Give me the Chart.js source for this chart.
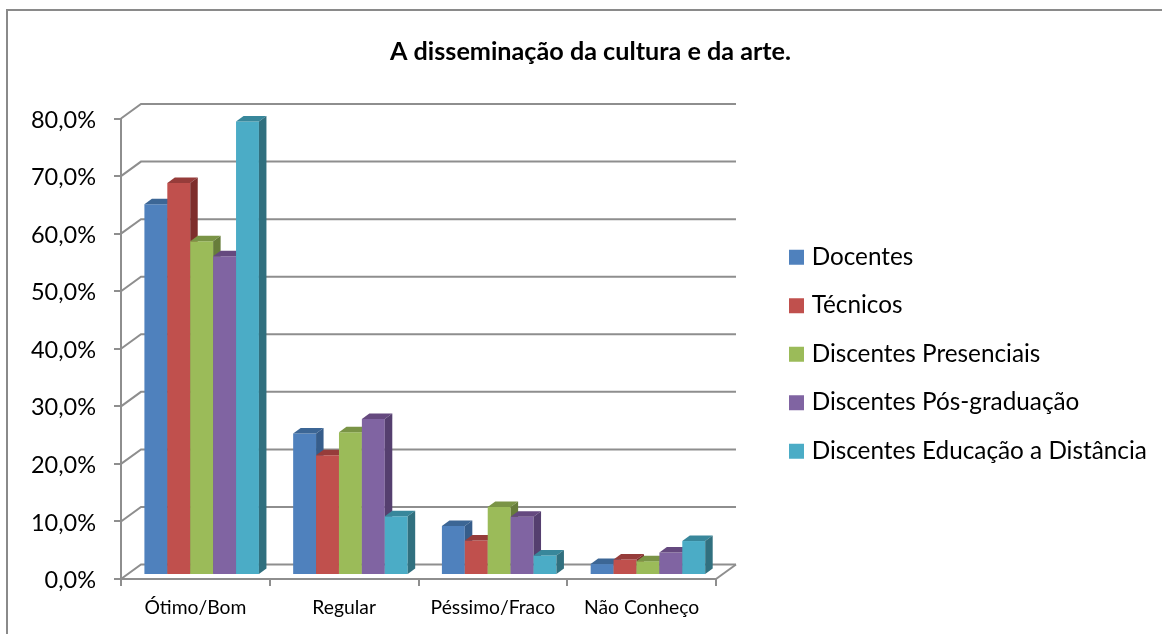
<!DOCTYPE html>
<html>
<head>
<meta charset="utf-8">
<title>A disseminação da cultura e da arte.</title>
<style>
  html, body { margin: 0; padding: 0; background: #fff; }
  #wrap { position: relative; width: 1162px; height: 634px; }
</style>
<script src="https://cdn.jsdelivr.net/npm/chart.js@4/dist/chart.umd.min.js"></script>
</head>
<body>
<div id="wrap"><canvas id="chart" width="1162" height="634"></canvas></div>
<script>
const chartTitle = "A disseminação da cultura e da arte.";
const categories = ["Ótimo/Bom", "Regular", "Péssimo/Fraco", "Não Conheço"];
const docentes = [64.4, 24.6, 8.5, 1.9];
const tecnicos = [68.1, 20.8, 6.0, 2.7];
const presenciais = [58.0, 24.8, 11.8, 2.4];
const posGraduacao = [55.4, 27.1, 10.1, 3.9];
const distancia = [78.8, 10.2, 3.4, 5.9];

const gridColor = "#8e8e8e";
const font = "Lato";

// depth of the fake 3D box, in px
const wallDx = 20, wallDy = 14.5;
const barShiftX = 6.3, barShiftY = -4;
const barDx = 7.5, barDy = 5.5;

const series = [
    { label: "Docentes", data: docentes, color: "#4f81bd", side: "#365d8b", top: "#3c6695" },
    { label: "Técnicos", data: tecnicos, color: "#c0504d", side: "#7e2e2c", top: "#963c3a" },
    { label: "Discentes Presenciais", data: presenciais, color: "#9bbb59", side: "#677d3a", top: "#7a9446" },
    { label: "Discentes Pós-graduação", data: posGraduacao, color: "#8064a2", side: "#553f6f", top: "#65497f" },
    { label: "Discentes Educação a Distância", data: distancia, color: "#4bacc6", side: "#31707f", top: "#38879b" }
];

const face = (ctx, color, pts) => {
    ctx.fillStyle = color;
    ctx.beginPath();
    pts.forEach((p, i) => i ? ctx.lineTo(p[0], p[1]) : ctx.moveTo(p[0], p[1]));
    ctx.closePath();
    ctx.fill();
};

const box3d = {
    id: "box3d",
    // outer frame only has top and left edges
    beforeDraw(chart) {
        const ctx = chart.ctx;
        ctx.save();
        ctx.strokeStyle = "#8a8a8a";
        ctx.lineWidth = 2;
        ctx.beginPath();
        ctx.moveTo(7, 634);
        ctx.lineTo(7, 10);
        ctx.lineTo(1162, 10);
        ctx.stroke();
        ctx.restore();
    },
    // back wall lines + floor edge
    beforeDatasetsDraw(chart) {
        const ctx = chart.ctx, y = chart.scales.y, a = chart.chartArea;
        ctx.save();
        ctx.strokeStyle = gridColor;
        ctx.lineWidth = 2;
        y.ticks.forEach((t, i) => {
            const py = y.getPixelForTick(i);
            ctx.beginPath();
            ctx.moveTo(a.left, py);
            ctx.lineTo(a.left + wallDx, py - wallDy);
            ctx.lineTo(a.right + wallDx, py - wallDy);
            ctx.stroke();
        });
        ctx.beginPath();
        ctx.moveTo(a.right, y.getPixelForValue(0));
        ctx.lineTo(a.right + wallDx, y.getPixelForValue(0) - wallDy);
        ctx.stroke();
        ctx.restore();
    },
    // default draw order is last dataset first, the boxes need first dataset first
    beforeDatasetDraw() {
        return false;
    },
    afterDatasetsDraw(chart) {
        const ctx = chart.ctx;
        ctx.save();
        ctx.translate(barShiftX, barShiftY);
        series.forEach((s, i) => {
            const meta = chart.getDatasetMeta(i);
            meta.controller.draw();
            meta.data.forEach(el => {
                const r = el.x + el.width / 2, l = el.x - el.width / 2;
                face(ctx, s.top, [[l, el.y], [l + barDx, el.y - barDy], [r + barDx, el.y - barDy], [r, el.y]]);
                face(ctx, s.side, [[r, el.y], [r + barDx, el.y - barDy], [r + barDx, el.base - barDy], [r, el.base]]);
            });
        });
        ctx.restore();
    },
    afterUpdate(chart) {
        // title is centred a bit right of the canvas, legend sits beside the plot
        chart.titleBlock.left = 0;
        chart.titleBlock.right = 1181;
        const lg = chart.legend;
        lg.left = 793.5 - lg.options.labels.padding;
        lg.right = 1162;
        lg.top = 256 - 11 - lg.options.labels.padding;
        lg.bottom = lg.top + 400;
        lg.adjustHitBoxes();
    }
};

new Chart(document.getElementById("chart"), {
    type: "bar",
    data: {
        labels: categories,
        datasets: series.map(s => ({
            label: s.label,
            data: s.data,
            backgroundColor: s.color,
            borderWidth: 0
        }))
    },
    options: {
        responsive: false,
        animation: false,
        events: [],
        categoryPercentage: 0.77,
        barPercentage: 1,
        layout: { padding: { left: 0, right: 446, top: 0, bottom: 0 } },
        plugins: {
            tooltip: { enabled: false },
            title: {
                display: true,
                text: chartTitle,
                color: "#000",
                font: { family: font, size: 25.2, weight: "bold" },
                padding: { top: 37, bottom: 51.3 }
            },
            legend: {
                position: "chartArea",
                align: "start",
                labels: {
                    color: "#000",
                    font: { family: font, size: 24.3 },
                    padding: 24.2,
                    boxWidth: 6,
                    boxHeight: 6,
                    // thick outline makes the swatch 15px while keeping the text close
                    generateLabels: c => c.data.datasets.map((d, i) => ({
                        text: d.label,
                        fillStyle: d.backgroundColor,
                        strokeStyle: d.backgroundColor,
                        lineWidth: 9,
                        datasetIndex: i
                    }))
                }
            }
        },
        scales: {
            x: {
                grid: { drawOnChartArea: false, color: gridColor, lineWidth: 2, tickLength: 7 },
                border: { color: gridColor, width: 2 },
                ticks: { color: "#000", font: { family: font, size: 19.3 }, padding: 10, maxRotation: 0 },
                afterFit: s => { s.height = 55; }
            },
            y: {
                min: 0,
                max: 80,
                grid: { drawOnChartArea: false, color: gridColor, lineWidth: 2, tickLength: 7 },
                border: { color: gridColor, width: 2 },
                ticks: {
                    color: "#000",
                    font: { family: font, size: 23.5 },
                    padding: 18,
                    labelOffset: 1.5,
                    stepSize: 10,
                    callback: v => v.toFixed(1).replace(".", ",") + "%"
                },
                afterFit: s => { s.width = 121; }
            }
        }
    },
    plugins: [box3d]
});
</script>
</body>
</html>
